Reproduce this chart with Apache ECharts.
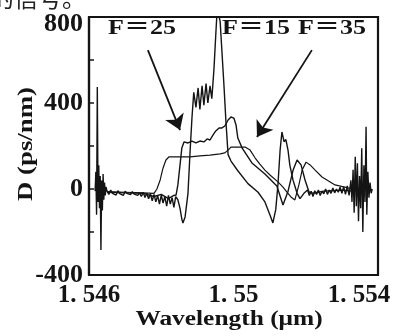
<!DOCTYPE html>
<html><head><meta charset="utf-8">
<script src="https://cdn.jsdelivr.net/npm/echarts@6/dist/echarts.min.js"></script>
<style>html,body{margin:0;padding:0;background:#fff}#c{width:401px;height:336px}</style>
</head><body><div id="c"></div>
<script>
const xTickLabels = ['1. 546', '1. 55', '1. 554'];
const yTickLabels = { '800': '800', '400': '400', '0': '0', '-400': '-400' };
const seriesNames = ['F=15', 'F=25', 'F=35'];

// F=15 : wavelength (um), D (ps/nm)
const f15 = [
  [1.54617,-10],[1.54619,80],[1.54621,-120],[1.54623,474],[1.54625,-60],[1.54627,110],[1.54629,-90],[1.54631,60],
  [1.54633,-284],[1.54635,40],[1.54637,-100],[1.54639,70],[1.54641,-50],[1.54643,30],[1.54645,-30],[1.54647,10],
  [1.54650,-10],[1.54655,-25],[1.54660,-5],[1.54665,-20],[1.54670,-12],[1.54675,-28],[1.54680,-8],[1.54685,-22],
  [1.54690,-15],[1.54695,-30],[1.54700,-10],[1.54705,-20],[1.54710,-14],[1.54715,-26],[1.54720,-12],[1.54725,-24],
  [1.54730,-16],[1.54735,-30],[1.54740,-18],[1.54745,-35],[1.54750,-15],[1.54755,-40],[1.54760,-20],[1.54765,-45],
  [1.54770,-22],[1.54775,-55],[1.54780,-25],[1.54785,-60],[1.54790,-30],[1.54795,-70],[1.54800,-28],[1.54805,-65],
  [1.54810,-35],[1.54815,-80],[1.54820,-30],[1.54825,-70],[1.54830,-40],[1.54835,-85],[1.54840,-35],
  [1.54846,-50],[1.54852,-90],[1.54857,-140],[1.54860,-158],[1.54866,-130],[1.54874,-20],[1.54880,180],[1.54885,330],
  [1.54890,450],[1.54896,380],[1.54902,470],[1.54907,370],[1.54913,480],[1.54918,390],[1.54924,490],[1.54929,400],
  [1.54935,480],[1.54940,420],[1.54946,560],[1.54951,720],[1.54955,840],[1.54960,840],[1.54963,780],[1.54974,470],
  [1.54979,315],[1.54985,160],[1.54993,130],[1.55012,85],[1.55040,25],[1.55068,-15],[1.55087,-60],[1.55101,-121],
  [1.55109,-158],[1.55117,-95],[1.55123,20],[1.55129,180],[1.55134,265],[1.55140,220],[1.55145,230],[1.55151,180],
  [1.55156,110],[1.55165,40],[1.55176,-20],[1.55184,-45],[1.55195,-20],
  [1.55200,-20],[1.55205,-5],[1.55210,-30],[1.55215,-10],[1.55220,-35],[1.55225,-8],[1.55230,-25],[1.55235,-5],
  [1.55240,-30],[1.55245,-10],[1.55250,-22],[1.55255,0],[1.55260,-25],[1.55265,-5],[1.55270,-20],[1.55275,5],
  [1.55280,-18],[1.55285,0],[1.55290,-15],[1.55295,8],[1.55300,-20],[1.55305,10],[1.55310,-25],[1.55315,15],
  [1.55320,-30],[1.55325,40],[1.55328,-60],[1.55331,90],[1.55334,-110],[1.55337,150],[1.55340,-80],[1.55343,120],
  [1.55346,-150],[1.55349,60],[1.55352,-90],[1.55355,190],[1.55358,-200],[1.55361,110],[1.55364,-60],[1.55367,290],
  [1.55369,-120],[1.55372,80],[1.55375,-40],[1.55378,30],[1.55381,-20],[1.55384,0]
];

// F=25
const f25 = [
  [1.54650,-15],[1.54700,-18],[1.54750,-20],[1.54780,-35],[1.54800,-25],[1.54820,-45],[1.54835,-30],[1.54841,-28],
  [1.54846,19],[1.54852,112],[1.54857,191],[1.54863,219],[1.54874,214],[1.54885,223],[1.54896,214],[1.54907,223],
  [1.54918,219],[1.54927,233],[1.54935,228],[1.54943,251],[1.54951,270],[1.54960,284],[1.54968,284],[1.54976,293],
  [1.54985,321],[1.54993,335],[1.55001,330],[1.55007,298],[1.55012,237],[1.55024,190],[1.55051,121],[1.55087,70],
  [1.55120,14],[1.55137,-74],[1.55151,-10],[1.55165,88],[1.55176,135],[1.55187,112],[1.55198,42],[1.55209,-14],
  [1.55220,-20],[1.55250,-10],[1.55300,-5],[1.55330,-10]
];

// F=35
const f35 = [
  [1.54650,-12],[1.54700,-15],[1.54750,-18],[1.54780,-20],[1.54788,0],[1.54797,42],[1.54805,98],[1.54813,135],
  [1.54821,149],[1.54852,149],[1.54880,149],[1.54907,154],[1.54935,158],[1.54963,163],[1.54976,168],[1.54985,181],
  [1.54993,195],[1.55018,195],[1.55032,195],[1.55046,181],[1.55060,144],[1.55073,116],[1.55087,88],[1.55101,65],
  [1.55123,33],[1.55137,9],[1.55148,-14],[1.55159,-37],[1.55170,-51],[1.55181,19],[1.55190,88],[1.55201,125],
  [1.55212,112],[1.55226,88],[1.55245,56],[1.55281,19],[1.55317,5],[1.55340,0]
];

// annotation arrows (data coordinates): [start, tip]
const arrowF25 = [[1.54763, 646], [1.54852, 274]];
const arrowF35 = [[1.55217, 646], [1.55065, 242]];

const serifBold = '"Liberation Serif", "Times New Roman", serif';
const ink = '#141414';

const chart = echarts.init(document.getElementById('c'), null, { renderer: 'canvas' });

function lineSeries(name, data, extra) {
  return Object.assign({
    name, type: 'line', data, showSymbol: false, symbol: 'none', animation: false,
    clip: true, lineStyle: { color: ink, width: 1.4 }, z: 3
  }, extra || {});
}

chart.setOption({
  animation: false,
  backgroundColor: '#fff',
  grid: { left: 89, right: 23, top: 17, bottom: 61, show: true, borderColor: ink, borderWidth: 2.2, backgroundColor: 'transparent' },
  xAxis: {
    type: 'value', min: 1.546, max: 1.554, interval: 0.004,
    axisLine: { show: true, onZero: false, lineStyle: { color: ink, width: 2.2 } },
    axisTick: { show: false },
    splitLine: { show: false },
    axisLabel: {
      margin: 8, color: ink, fontFamily: serifBold, fontWeight: 'bold', fontSize: 25,
      formatter: (v, i) => i === 2 ? '{r|' + xTickLabels[i] + '}' : xTickLabels[i],
      rich: { r: { padding: [0, 38, 0, 0], fontFamily: serifBold, fontWeight: 'bold', fontSize: 25, color: ink } }
    }
  },
  yAxis: {
    type: 'value', min: -400, max: 800, interval: 200,
    axisLine: { show: true, onZero: false, lineStyle: { color: ink, width: 2.2 } },
    axisTick: { show: true, inside: true, length: 5, lineStyle: { color: ink, width: 1.5 } },
    splitLine: { show: false },
    axisLabel: {
      margin: 6, color: ink, fontFamily: serifBold, fontWeight: 'bold', fontSize: 26,
      formatter: v => {
        const t = yTickLabels[String(v)];
        if (t === undefined) return '';
        return v === 800 ? '{t|' + t + '}' : t;
      },
      rich: { t: { padding: [14, 0, 0, 0], fontFamily: serifBold, fontWeight: 'bold', fontSize: 26, color: ink } }
    }
  },
  series: [
    lineSeries(seriesNames[0], f15, {
      markLine: {
        silent: true, animation: false, symbol: ['none', 'arrow'], symbolSize: 15,
        lineStyle: { color: ink, width: 1.8, type: 'solid' },
        itemStyle: { color: ink },
        label: { show: false },
        data: [
          [{ coord: arrowF25[0] }, { coord: arrowF25[1] }],
          [{ coord: arrowF35[0] }, { coord: arrowF35[1] }]
        ]
      }
    }),
    lineSeries(seriesNames[1], f25),
    lineSeries(seriesNames[2], f35, { lineStyle: { color: ink, width: 1.2 } })
  ],
  graphic: [
    { type: 'text', x: -10, y: -2, style: { text: '的信号。', font: '24px "Noto Sans CJK SC"', fill: '#222', textAlign: 'left', textVerticalAlign: 'middle' } },
    { type: 'text', x: 142, y: 29, scaleX: 1.3, style: { text: 'F＝25', font: 'bold 20px ' + serifBold + ', "Noto Sans CJK SC"', fill: ink, textAlign: 'center', textVerticalAlign: 'middle' } },
    { type: 'text', x: 256, y: 29, scaleX: 1.3, style: { text: 'F＝15', font: 'bold 20px ' + serifBold + ', "Noto Sans CJK SC"', fill: ink, textAlign: 'center', textVerticalAlign: 'middle' } },
    { type: 'text', x: 332, y: 29, scaleX: 1.3, style: { text: 'F＝35', font: 'bold 20px ' + serifBold + ', "Noto Sans CJK SC"', fill: ink, textAlign: 'center', textVerticalAlign: 'middle' } },
    { type: 'text', x: 229, y: 320, scaleX: 1.27, style: { text: 'Wavelength (μm)', font: 'bold 20px ' + serifBold, fill: ink, textAlign: 'center', textVerticalAlign: 'middle' } },
    { type: 'text', x: 26, y: 144, rotation: Math.PI / 2, scaleX: 1.22, style: { text: 'D (ps/nm)', font: 'bold 22px ' + serifBold, fill: ink, textAlign: 'center', textVerticalAlign: 'middle' } }
  ]
});
</script>
</body></html>
